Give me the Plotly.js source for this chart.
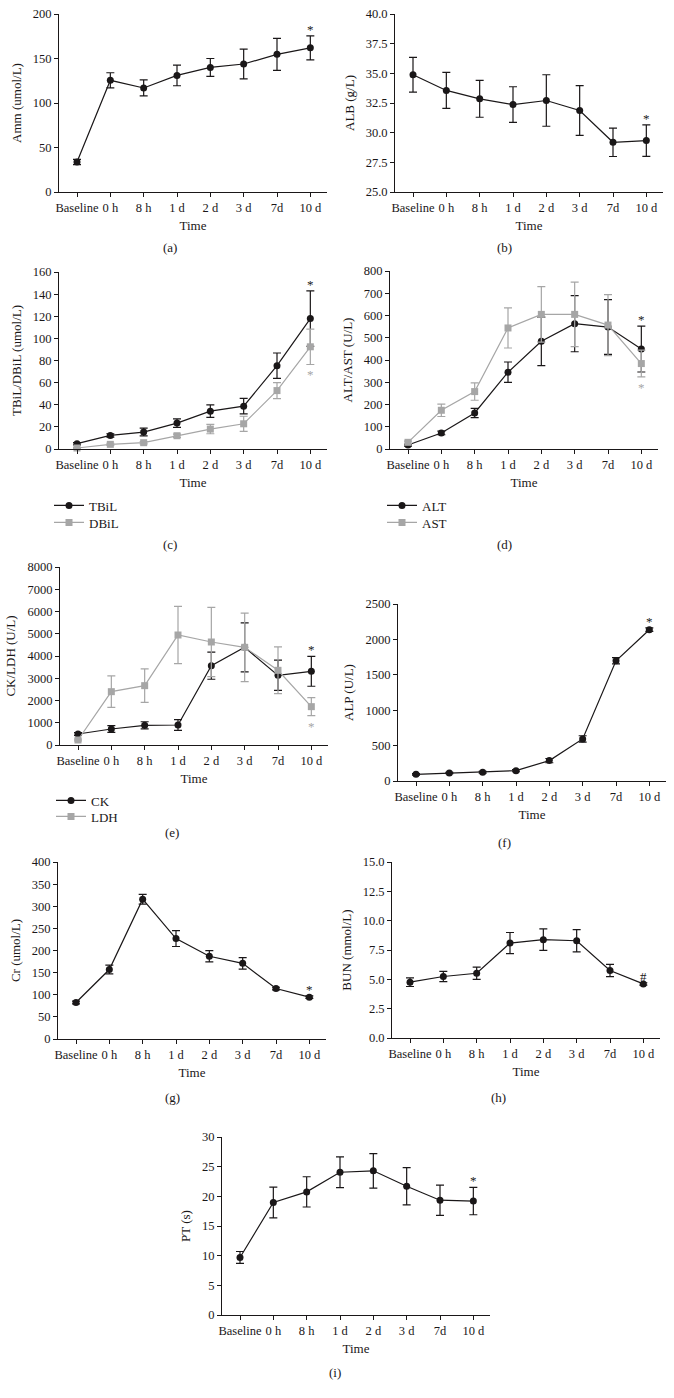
<!DOCTYPE html>
<html>
<head>
<meta charset="utf-8">
<script src="https://cdn.plot.ly/plotly-3.0.1.min.js"></script>
<style>
  html, body { margin: 0; padding: 0; background: #fff; }
  #chart { width: 674px; height: 1398px; }
</style>
</head>
<body>
<div id="chart"></div>
<script>
// ---------- data ----------
const timePoints = ['Baseline', '0 h', '8 h', '1 d', '2 d', '3 d', '7d', '10 d'];

const ammMean = [33.7, 125.5, 116.9, 131.0, 140.0, 143.8, 154.7, 162.0];
const ammSD   = [3.0, 8.5, 9.0, 11.6, 10.0, 16.8, 18.0, 13.5];

const albMean = [34.88, 33.56, 32.85, 32.37, 32.71, 31.87, 29.19, 29.33];
const albSD   = [1.46, 1.52, 1.55, 1.50, 2.17, 2.10, 1.20, 1.32];

const tbilMean = [4.8, 12.3, 15.3, 23.4, 34.2, 38.7, 75.3, 117.9];
const tbilSD   = [1.0, 1.5, 3.5, 3.9, 5.7, 7.0, 11.5, 25.0];
const dbilMean = [0.9, 4.2, 5.7, 12.0, 18.0, 22.8, 52.8, 92.4];
const dbilSD   = [0.5, 1.0, 1.0, 1.5, 4.2, 6.8, 7.2, 16.0];

const altMean = [18, 72, 162, 345, 484, 563, 548, 449];
const altSD   = [5, 8, 21, 46, 109, 126, 123, 103];
const astMean = [30, 174, 258, 544, 605, 605, 557, 384];
const astSD   = [5, 28, 39, 90, 125, 145, 137, 60];

const ckMean  = [494, 719, 884, 899, 3566, 4390, 3131, 3311];
const ckSD    = [60, 150, 160, 240, 610, 1100, 680, 670];
const ldhMean = [225, 2397, 2667, 4944, 4629, 4390, 3356, 1723];
const ldhSD   = [40, 710, 750, 1290, 1560, 1540, 1050, 405];

const alpMean = [94, 113, 123, 146, 288, 594, 1698, 2137];
const alpSD   = [10, 10, 12, 15, 30, 45, 45, 25];

const crMean = [82.5, 157, 316, 227, 187, 171, 114, 94.6];
const crSD   = [3, 10, 11, 18, 12.5, 13, 3, 3];

const bunMean = [4.76, 5.24, 5.52, 8.09, 8.38, 8.29, 5.75, 4.61];
const bunSD   = [0.37, 0.44, 0.52, 0.90, 0.92, 0.95, 0.52, 0.10];

const ptMean = [9.7, 18.96, 20.75, 24.06, 24.3, 21.7, 19.35, 19.2];
const ptSD   = [1.0, 2.6, 2.55, 2.6, 2.9, 3.15, 2.55, 2.3];

// ---------- layout helpers ----------
const W = 674, H = 1398;
const FONT = '"Liberation Serif", "Times New Roman", serif';
const INK = '#1a1718';
const GRAY = '#a6a6a6';
const fx = px => px / W;
const fy = py => 1 - py / H;
const PLOT_W = 268;
const X_RANGE = [-0.54, 7.5];

const panels = [
  {title: 'Amm (umol/L)',       x0: 59,  top: 14,   bottom: 192,  range: [0, 200],  dtick: 50,   fmt: '',    cap: '(a)', capX: 170, capY: 248},
  {title: 'ALB (g/L)',          x0: 395, top: 14,   bottom: 192,  range: [25, 40],  dtick: 2.5,  fmt: '.1f', cap: '(b)', capX: 505, capY: 248},
  {title: 'TBiL/DBiL (umol/L)', x0: 59,  top: 272,  bottom: 449,  range: [0, 160],  dtick: 20,   fmt: '',    cap: '(c)', capX: 170, capY: 545},
  {title: 'ALT/AST (U/L)',      x0: 390, top: 271,  bottom: 449,  range: [0, 800],  dtick: 100,  fmt: '',    cap: '(d)', capX: 505, capY: 545},
  {title: 'CK/LDH (U/L)',       x0: 60,  top: 567,  bottom: 745,  range: [0, 8000], dtick: 1000, fmt: '',    cap: '(e)', capX: 172, capY: 832},
  {title: 'ALP (U/L)',          x0: 398, top: 604,  bottom: 781,  range: [0, 2500], dtick: 500,  fmt: '',    cap: '(f)', capX: 505, capY: 842},
  {title: 'Cr (umol/L)',        x0: 58,  top: 862,  bottom: 1039, range: [0, 400],  dtick: 50,   fmt: '',    cap: '(g)', capX: 172, capY: 1097},
  {title: 'BUN (mmol/L)',       x0: 392, top: 862,  bottom: 1038, range: [0, 15],   dtick: 2.5,  fmt: '.1f', cap: '(h)', capX: 498, capY: 1097},
  {title: 'PT (s)',             x0: 222, top: 1137, bottom: 1315, range: [0, 30],   dtick: 5,    fmt: '',    cap: '(i)', capX: 335, capY: 1372}
];

const layout = {
  width: W, height: H,
  margin: {l: 0, r: 0, t: 0, b: 0},
  paper_bgcolor: '#fff', plot_bgcolor: 'rgba(0,0,0,0)',
  font: {family: FONT, color: INK, size: 12.5},
  annotations: [],
  showlegend: true
};

panels.forEach((p, i) => {
  const n = i + 1;
  const xk = 'xaxis' + (n > 1 ? n : '');
  const yk = 'yaxis' + (n > 1 ? n : '');
  layout[xk] = {
    domain: [fx(p.x0), fx(p.x0 + PLOT_W)],
    anchor: 'y' + (n > 1 ? n : ''),
    type: 'category', range: X_RANGE,
    showline: true, linecolor: INK, linewidth: 1,
    ticks: 'outside', ticklen: 4, tickwidth: 1, tickcolor: INK,
    showgrid: false, zeroline: false,
    tickfont: {family: FONT, size: 12.5, color: INK},
    title: {text: 'Time', font: {family: FONT, size: 13, color: INK}, standoff: 6},
    fixedrange: true
  };
  layout[yk] = {
    domain: [fy(p.bottom), fy(p.top)],
    anchor: 'x' + (n > 1 ? n : ''),
    range: p.range, dtick: p.dtick, tick0: p.range[0], tickformat: p.fmt,
    showline: true, linecolor: INK, linewidth: 1,
    ticks: 'outside', ticklen: 4, tickwidth: 1, tickcolor: INK,
    showgrid: false, zeroline: false,
    tickfont: {family: FONT, size: 12.5, color: INK},
    title: {text: p.title, font: {family: FONT, size: 13, color: INK}, standoff: 8},
    fixedrange: true
  };
  layout.annotations.push({
    xref: 'paper', yref: 'paper', x: fx(p.capX), y: fy(p.capY),
    xanchor: 'center', yanchor: 'middle', showarrow: false,
    text: p.cap, font: {family: FONT, size: 13, color: INK}
  });
});

function series(n, y, sd, color, symbol, name, legendKey) {
  const t = {
    type: 'scatter', mode: 'lines+markers',
    x: timePoints, y: y, name: name,
    xaxis: 'x' + (n > 1 ? n : ''), yaxis: 'y' + (n > 1 ? n : ''),
    line: {color: color, width: 1.2},
    marker: {color: color, symbol: symbol, size: 7},
    error_y: {type: 'data', array: sd, visible: true, color: color, thickness: 1.2, width: 4},
    cliponaxis: false,
    showlegend: !!legendKey,
    hoverinfo: 'skip'
  };
  if (legendKey) t.legend = legendKey;
  return t;
}

const traces = [
  series(1, ammMean, ammSD, INK, 'circle', 'Amm'),
  series(2, albMean, albSD, INK, 'circle', 'ALB'),
  series(3, tbilMean, tbilSD, INK, 'circle', 'TBiL', 'legend'),
  series(3, dbilMean, dbilSD, GRAY, 'square', 'DBiL', 'legend2'),
  series(4, altMean, altSD, INK, 'circle', 'ALT', 'legend3'),
  series(4, astMean, astSD, GRAY, 'square', 'AST', 'legend4'),
  series(5, ckMean, ckSD, INK, 'circle', 'CK', 'legend5'),
  series(5, ldhMean, ldhSD, GRAY, 'square', 'LDH', 'legend6'),
  series(6, alpMean, alpSD, INK, 'circle', 'ALP'),
  series(7, crMean, crSD, INK, 'circle', 'Cr'),
  series(8, bunMean, bunSD, INK, 'circle', 'BUN'),
  series(9, ptMean, ptSD, INK, 'circle', 'PT')
];

// significance marks at the last time point
function markAbove(n, mean, sd, text, color) {
  const k = mean.length - 1;
  layout.annotations.push({
    xref: 'x' + (n > 1 ? n : ''), yref: 'y' + (n > 1 ? n : ''),
    x: timePoints[k], y: mean[k] + sd[k], xanchor: 'center', yanchor: 'bottom',
    yshift: -3, showarrow: false, text: text,
    font: {family: FONT, size: 13, color: color}
  });
}
function markBelow(n, mean, sd, text, color) {
  const k = mean.length - 1;
  layout.annotations.push({
    xref: 'x' + (n > 1 ? n : ''), yref: 'y' + (n > 1 ? n : ''),
    x: timePoints[k], y: mean[k] - sd[k], xanchor: 'center', yanchor: 'top',
    yshift: -1, showarrow: false, text: text,
    font: {family: FONT, size: 13, color: color}
  });
}
markAbove(1, ammMean, ammSD, '*', INK);
markAbove(2, albMean, albSD, '*', INK);
markAbove(3, tbilMean, tbilSD, '*', INK);
markBelow(3, dbilMean, dbilSD, '*', GRAY);
markAbove(4, altMean, altSD, '*', INK);
markBelow(4, astMean, astSD, '*', GRAY);
markAbove(5, ckMean, ckSD, '*', INK);
markBelow(5, ldhMean, ldhSD, '*', GRAY);
markAbove(6, alpMean, alpSD, '*', INK);
markAbove(7, crMean, crSD, '*', INK);
markAbove(8, bunMean, bunSD, '#', INK);
markAbove(9, ptMean, ptSD, '*', INK);

// one legend per entry so rows sit exactly where the reference has them
const legendBase = {
  xanchor: 'left', yanchor: 'top', bgcolor: 'rgba(0,0,0,0)', borderwidth: 0,
  font: {family: FONT, size: 13, color: INK}, tracegroupgap: 0, orientation: 'v'
};
const OFF = 14.5;
layout.legend  = Object.assign({}, legendBase, {x: fx(49),  y: fy(505 - OFF)});
layout.legend2 = Object.assign({}, legendBase, {x: fx(49),  y: fy(522 - OFF)});
layout.legend3 = Object.assign({}, legendBase, {x: fx(382), y: fy(505 - OFF)});
layout.legend4 = Object.assign({}, legendBase, {x: fx(382), y: fy(522 - OFF)});
layout.legend5 = Object.assign({}, legendBase, {x: fx(51),  y: fy(800 - OFF)});
layout.legend6 = Object.assign({}, legendBase, {x: fx(51),  y: fy(816 - OFF)});

Plotly.newPlot('chart', traces, layout, {staticPlot: true, displayModeBar: false});
</script>
</body>
</html>
